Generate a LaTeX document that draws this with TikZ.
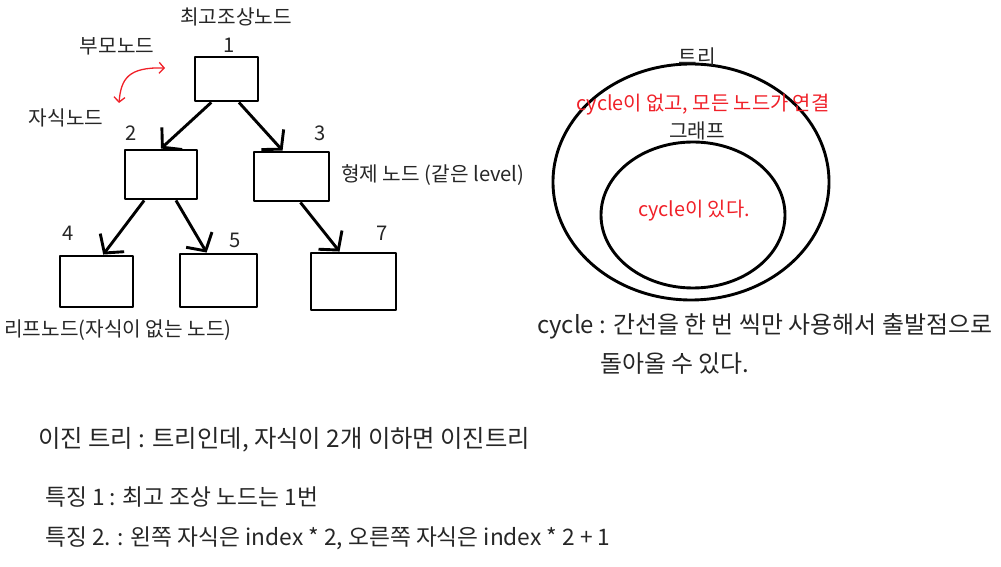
\documentclass[tikz,border=0pt]{standalone}
\usepackage{fontspec}
\setmainfont{Noto Sans CJK KR}
\usetikzlibrary{arrows.meta,shapes.geometric}
\definecolor{penred}{RGB}{240,32,40}
\tikzset{
  box/.style={draw,line width=2.9bp,inner sep=0pt},
  lbl/.style={text=black!85,font=\fontsize{20.3}{24}\selectfont,inner sep=0pt},
  biglbl/.style={lbl,font=\fontsize{24}{28}\selectfont},
  notelbl/.style={lbl,font=\fontsize{22.8}{27}\selectfont},
  redlbl/.style={lbl,text=penred,font=\fontsize{19.9}{24}\selectfont},
}
\begin{document}
\begin{tikzpicture}[>={Straight Barb[length=13bp,width=30bp]},line join=bevel,]
\useasboundingbox (0,0) rectangle (1001bp,567bp);
%%
\node (node_1) at (226.5bp,488bp) [box,minimum width=63bp,minimum height=44bp] {};
  \node (node_2) at (161bp,392.5bp) [box,minimum width=72bp,minimum height=49bp] {};
  \node (node_3) at (291.5bp,390.5bp) [box,minimum width=75bp,minimum height=49bp] {};
  \node (node_4) at (96.5bp,285.5bp) [box,minimum width=73bp,minimum height=51bp] {};
  \node (node_5) at (218.5bp,286.5bp) [box,minimum width=77bp,minimum height=53bp] {};
  \node (node_7) at (353.5bp,285.5bp) [box,minimum width=85bp,minimum height=57bp] {};
  \draw [black,->,line width=2.9bp] (node_1.237) -- (node_2.north);
  \draw [black,->,line width=2.9bp] (node_1.298) -- (node_3.109);
  \draw [black,->,line width=2.9bp] (node_2.237) -- (node_4.76);
  \draw [black,->,line width=2.9bp] (node_2.300) -- (node_5.113);
  \draw [black,->,line width=2.9bp] (node_3.289) -- (node_7.115);
%
\node (lbl_root) at (236bp,550bp) [lbl] {최고조상노드};
  \node (num_1) at (229bp,522bp) [lbl] {1};
  \node (num_2) at (131bp,434bp) [lbl] {2};
  \node (num_3) at (320bp,434bp) [lbl] {3};
  \node (num_4) at (68bp,334bp) [lbl] {4};
  \node (num_5) at (235bp,327bp) [lbl] {5};
  \node (num_7) at (382bp,334bp) [lbl] {7};
  \node (lbl_parent) at (117bp,521bp) [lbl] {부모노드};
  \node (lbl_child) at (66bp,449bp) [lbl] {자식노드};
  \node (lbl_sibling) at (341bp,392bp) [lbl,anchor=west] {형제 노드 (같은 level)};
  \node (lbl_leaf) at (4bp,237bp) [lbl,anchor=west] {리프노드(자식이 없는 노드)};
%
\coordinate (par_tip) at (165bp,499bp);
  \coordinate (child_tip) at (119bp,464bp);
  \draw [penred,line width=1.3bp,{Straight Barb[length=5bp,width=11bp]}-{Straight Barb[length=5bp,width=11bp]}] (child_tip) ..controls (121bp,488bp) and (128bp,500bp) .. (par_tip);
%
\node (tree_set) at (691bp,385bp) [draw,ellipse,line width=2.9bp,minimum width=276bp,minimum height=236bp] {};
  \node (graph_set) at (693bp,352bp) [draw,ellipse,line width=2.9bp,minimum width=184bp,minimum height=146bp] {};
  \node (lbl_tree) at (697bp,510bp) [lbl] {트리};
  \node (lbl_treedef) at (703bp,462bp) [redlbl] {cycle이 없고, 모든 노드가 연결};
  \node (lbl_graph) at (697bp,436bp) [lbl] {그래프};
  \node (lbl_graphdef) at (694bp,356bp) [redlbl] {cycle이 있다.};
  \node (lbl_cycle) at (537bp,241bp) [biglbl,anchor=west] {cycle : 간선을 한 번 씩만 사용해서 출발점으로};
  \node (lbl_cycle2) at (600bp,203bp) [biglbl,anchor=west] {돌아올 수 있다.};
%
\node (lbl_binary) at (38bp,127bp) [lbl,anchor=west,font=\fontsize{24.4}{28}\selectfont] {이진 트리 : 트리인데, 자식이 2개 이하면 이진트리};
  \node (lbl_prop1) at (45bp,70bp) [notelbl,anchor=west] {특징 1 : 최고 조상 노드는 1번};
  \node (lbl_prop2) at (45bp,29bp) [notelbl,anchor=west] {특징 2. : 왼쪽 자식은 index * 2, 오른쪽 자식은 index * 2 + 1};
%
\end{tikzpicture}
\end{document}
